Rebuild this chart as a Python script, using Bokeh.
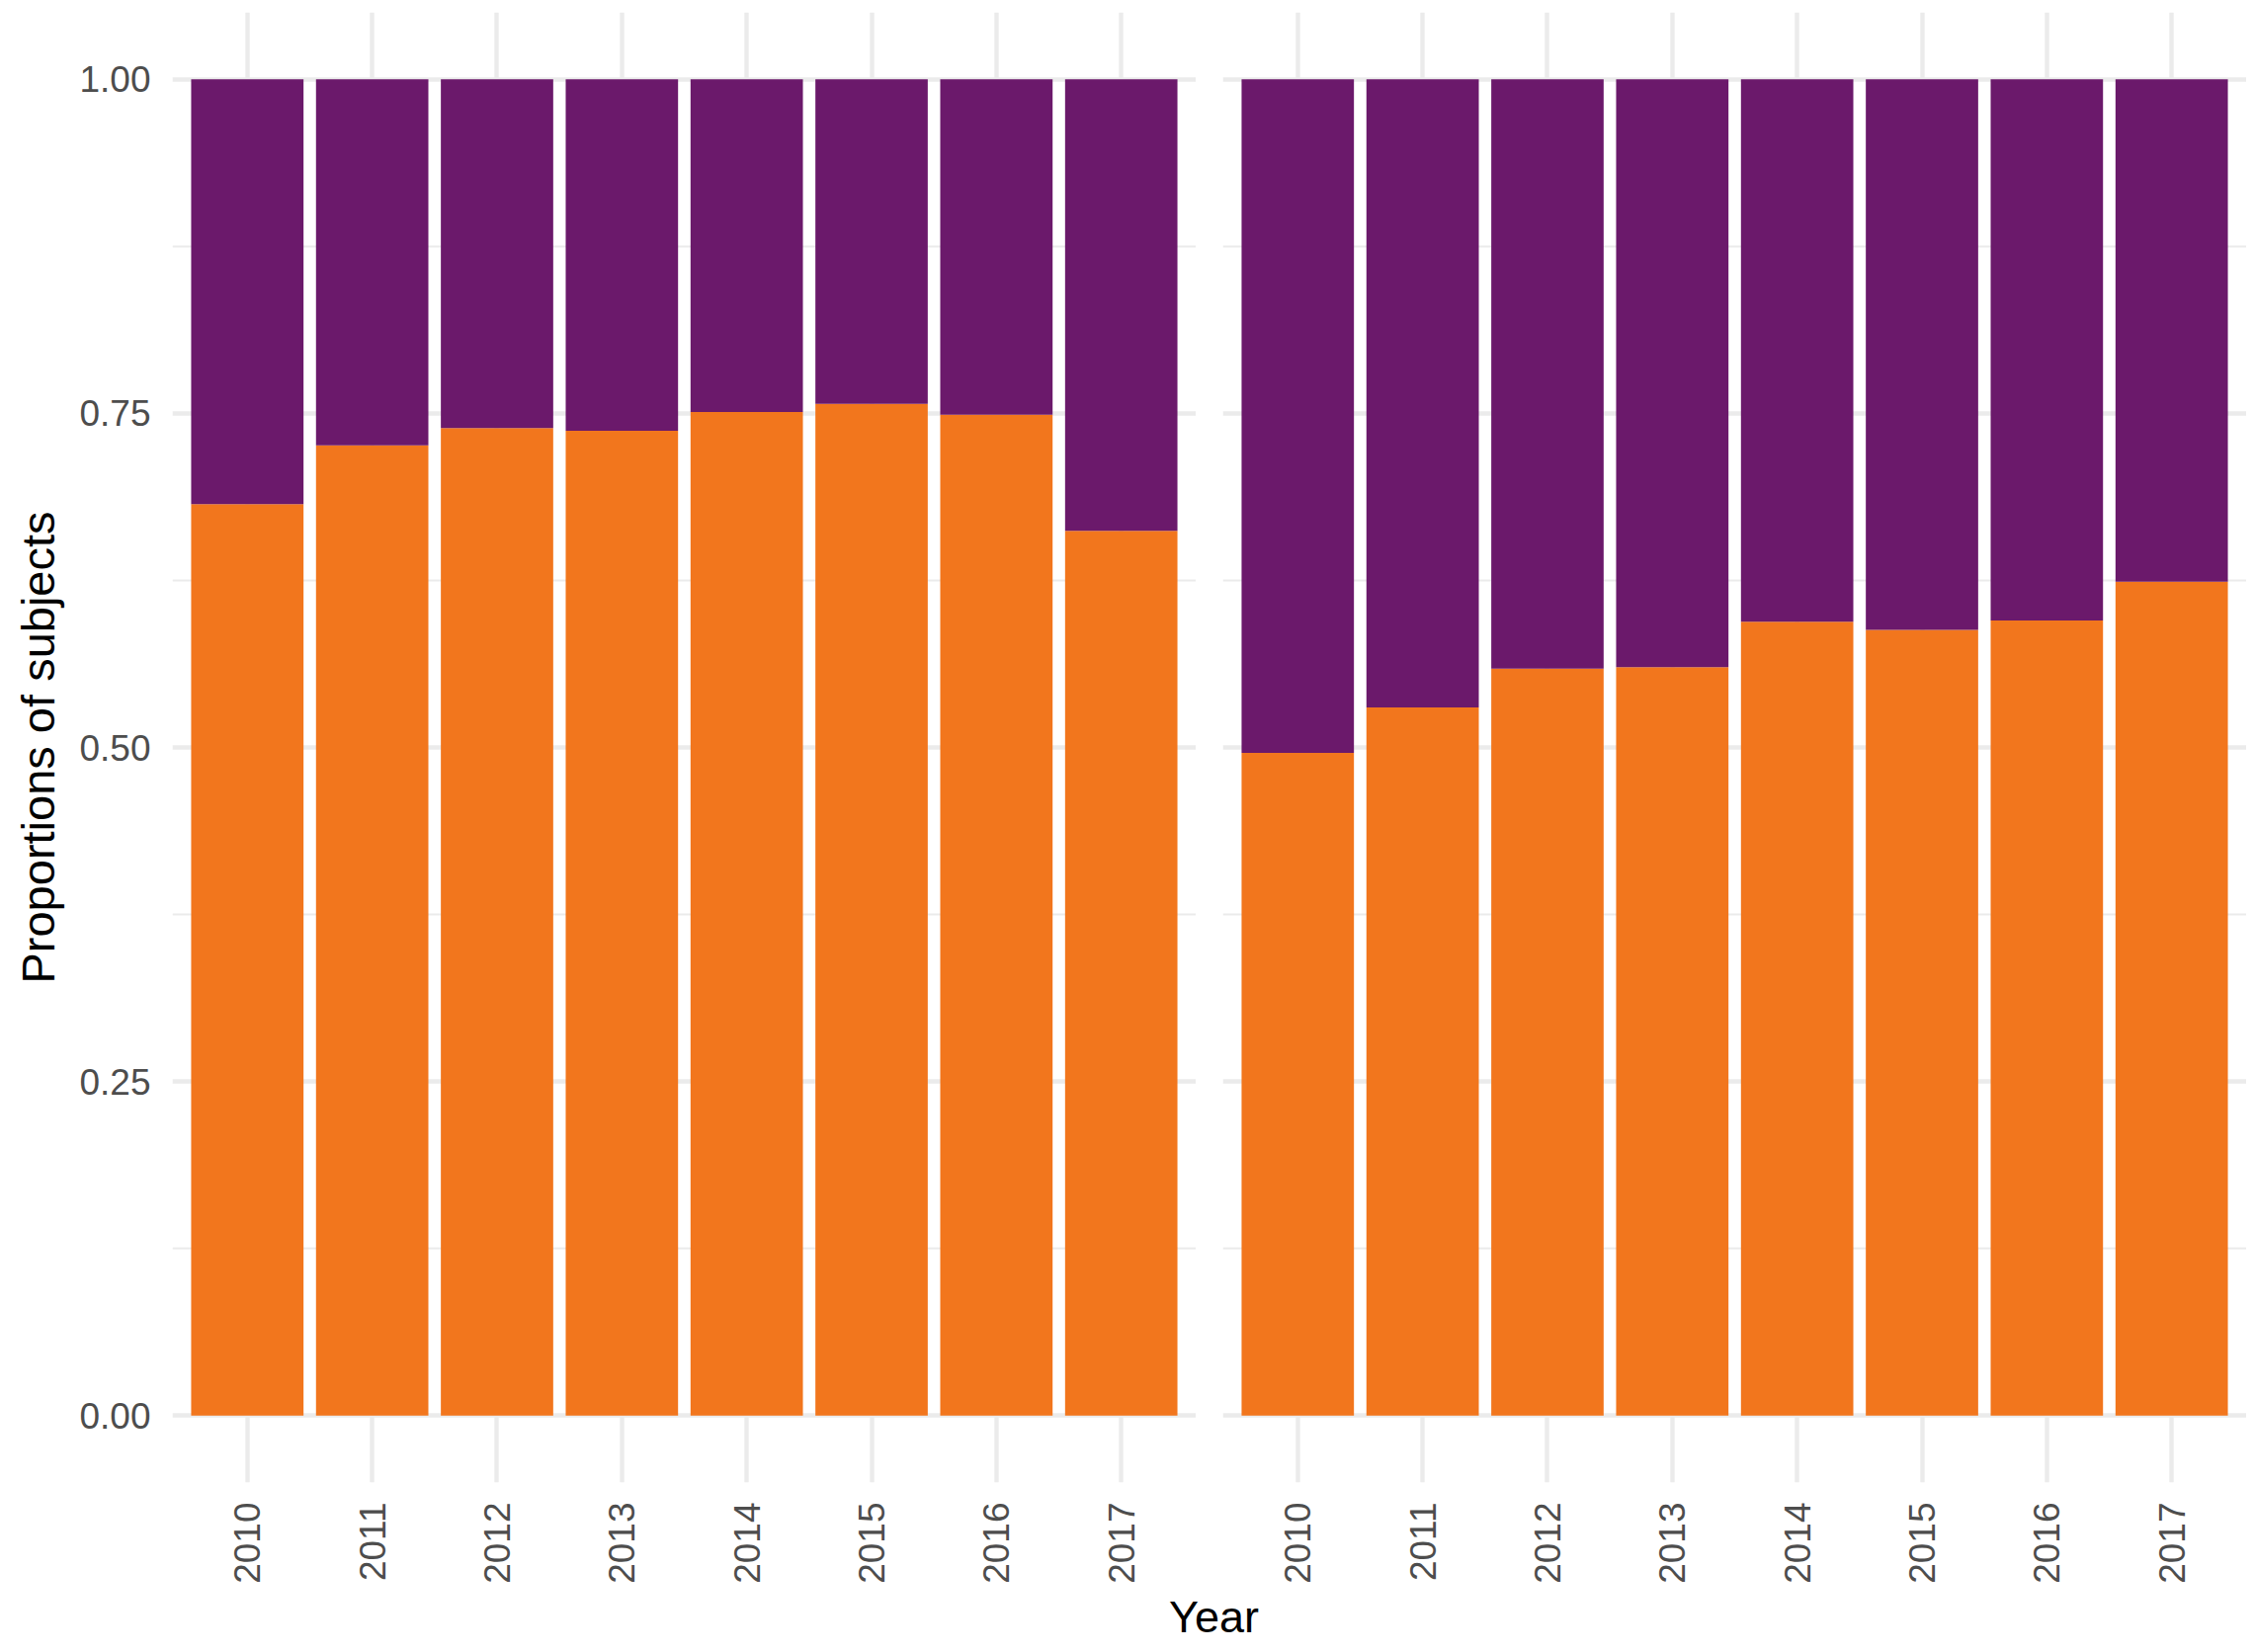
import math
from bokeh.plotting import figure
from bokeh.models import ColumnDataSource, FactorRange, Range1d, FixedTicker, NumeralTickFormatter
from bokeh.layouts import row, column
from bokeh.embed import file_html
from bokeh.resources import INLINE
from bokeh.core.properties import value

# ---- data ----
years = ["2010", "2011", "2012", "2013", "2014", "2015", "2016", "2017"]
left_orange = [0.682, 0.726, 0.739, 0.737, 0.751, 0.757, 0.749, 0.662]
left_purple = [0.318, 0.274, 0.261, 0.263, 0.249, 0.243, 0.251, 0.338]
right_orange = [0.496, 0.530, 0.559, 0.560, 0.594, 0.588, 0.595, 0.624]
right_purple = [0.504, 0.470, 0.441, 0.440, 0.406, 0.412, 0.405, 0.376]
y_ticks = [0.0, 0.25, 0.5, 0.75, 1.0]
y_minor = [0.125, 0.375, 0.625, 0.875]
x_title = "Year"
y_title = "Proportions of subjects"

ORANGE = "#F2761D"
PURPLE = "#6B196B"
GRID = "#EBEBEB"
TICK_COL = "#4D4D4D"
FONT = "Liberation Sans"

FRAME_W = 1036
FRAME_H = 1497
TOP = 12
BOTTOM = 96
TITLE_H = 59


def make_panel(orange, purple, left_border, frame_w, y_range=None, show_y=False):
    src = ColumnDataSource(dict(year=years, orange=orange, purple=purple))
    xr = FactorRange(*years, range_padding=0.025, range_padding_units="percent")
    yr = y_range if y_range is not None else Range1d(-0.05, 1.05)
    p = figure(x_range=xr, y_range=yr, width=left_border + frame_w, height=TOP + FRAME_H + BOTTOM,
               output_backend="svg", toolbar_location=None,
               min_border_left=left_border, min_border_right=0,
               min_border_top=TOP, min_border_bottom=BOTTOM)
    p.vbar_stack(["orange", "purple"], x="year", width=0.9, color=[ORANGE, PURPLE],
                 line_color=None, source=src)
    p.outline_line_color = None
    p.background_fill_color = "white"
    p.border_fill_color = "white"

    ticker = FixedTicker(ticks=y_ticks, minor_ticks=y_minor)
    p.yaxis.ticker = ticker
    p.ygrid.ticker = ticker
    p.ygrid.grid_line_color = GRID
    p.ygrid.grid_line_width = 4.4
    p.ygrid.minor_grid_line_color = GRID
    p.ygrid.minor_grid_line_width = 2.2
    p.xgrid.grid_line_color = GRID
    p.xgrid.grid_line_width = 4.4

    p.xaxis.axis_line_color = None
    p.xaxis.major_tick_line_color = None
    p.xaxis.minor_tick_line_color = None
    p.xaxis.major_label_orientation = math.pi / 2
    p.xaxis.major_label_text_font = FONT
    p.xaxis.major_label_text_font_size = "37px"
    p.xaxis.major_label_text_color = TICK_COL
    p.xaxis.major_label_standoff = 14

    p.yaxis.axis_line_color = None
    p.yaxis.major_tick_line_color = None
    p.yaxis.minor_tick_line_color = None
    p.yaxis.formatter = NumeralTickFormatter(format="0.00")
    if show_y:
        p.yaxis.major_label_text_font = FONT
        p.yaxis.major_label_text_font_size = "37px"
        p.yaxis.major_label_text_color = TICK_COL
        p.yaxis.major_label_standoff = 16
        p.yaxis.axis_label = y_title
        p.yaxis.axis_label_text_font = FONT
        p.yaxis.axis_label_text_font_size = "47px"
        p.yaxis.axis_label_text_font_style = "normal"
        p.yaxis.axis_label_text_color = "black"
        p.yaxis.axis_label_standoff = 12
    else:
        p.yaxis.visible = False
    return p


p1 = make_panel(left_orange, left_purple, 174, FRAME_W, show_y=True)
p2 = make_panel(right_orange, right_purple, 27, FRAME_W, y_range=p1.y_range)

total_w = p1.width + p2.width
p3 = figure(width=total_w, height=TITLE_H, x_range=Range1d(0, total_w), y_range=Range1d(0, TITLE_H),
            output_backend="svg", toolbar_location=None,
            min_border_left=0, min_border_right=0, min_border_top=0, min_border_bottom=0)
p3.axis.visible = False
p3.grid.visible = False
p3.outline_line_color = None
p3.text(x=[1228], y=[28], text=[x_title], text_align="center", text_baseline="middle",
        text_font=value(FONT), text_font_size="45px", text_color="black")

layout = column(row(p1, p2), p3)

open("out.html", "w").write(file_html(layout, INLINE))
